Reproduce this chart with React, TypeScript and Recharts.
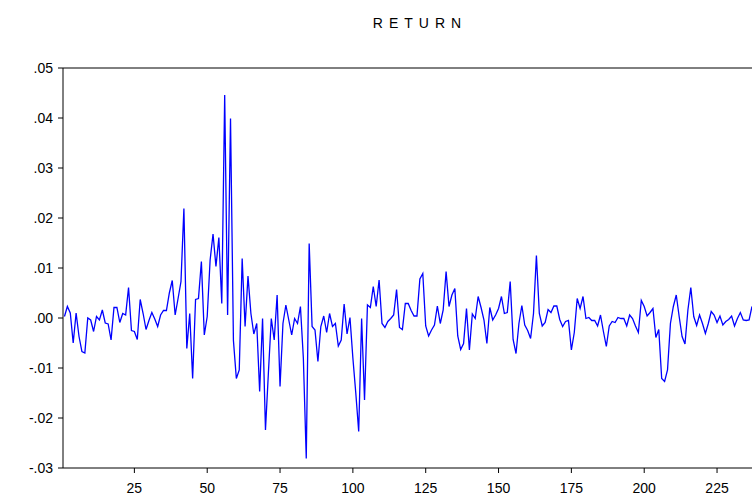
import { LineChart, Line, XAxis, YAxis, ReferenceLine } from 'recharts'

// daily return series
const returns = [
    0.0003, 0.0023, 0.001, -0.005, 0.001, -0.0037, -0.0067, -0.007, 0.0, -0.0004,
    -0.0027, 0.0003, -0.0004, 0.0016, -0.001, -0.0012, -0.0044, 0.0021, 0.0021, -0.0009,
    0.0009, 0.0006, 0.0061, -0.0025, -0.0027, -0.0043, 0.0037, 0.0009, -0.0023, -0.0005,
    0.0011, -0.0002, -0.0017, 0.0006, 0.0015, 0.0015, 0.005, 0.0075, 0.0006, 0.0039,
    0.0073, 0.0219, -0.0061, 0.0009, -0.0121, 0.0037, 0.0039, 0.0113, -0.0034, 0.0003,
    0.0116, 0.0168, 0.0103, 0.0161, 0.0029, 0.0446, 0.0006, 0.0399, -0.0045, -0.0121,
    -0.0104, 0.0119, -0.0017, 0.0084, 0.0009, -0.0032, -0.0011, -0.0147, -0.0001, -0.0224,
    -0.011, -0.0001, -0.0044, 0.0046, -0.0137, -0.0011, 0.0026, -0.0004, -0.0034, -0.0001,
    -0.0011, 0.0023, -0.008, -0.0281, 0.0149, -0.0017, -0.0024, -0.0087, -0.0017, 0.0004,
    -0.0029, 0.0009, -0.0017, -0.0011, -0.0056, -0.0044, 0.0028, -0.0032, 0.0001, -0.008,
    -0.015, -0.0227, -0.0001, -0.0164, 0.0026, 0.0021, 0.0063, 0.0023, 0.0076, -0.0011,
    -0.0019, -0.0007, -0.0001, 0.0006, 0.0057, -0.0019, -0.0023, 0.0029, 0.0029, 0.0015,
    0.0004, 0.0004, 0.0078, 0.0089, -0.0016, -0.0036, -0.0024, -0.0014, 0.0024, -0.0011,
    0.0016, 0.0093, 0.0023, 0.0046, 0.0059, -0.0036, -0.0063, -0.0051, 0.0019, -0.0064,
    0.0008, -0.0001, 0.0043, 0.0021, -0.0004, -0.0051, 0.0021, -0.0004, 0.0006, 0.0019,
    0.0043, 0.0009, 0.0011, 0.0073, -0.0043, -0.0071, -0.0011, 0.0025, -0.0014, -0.0025,
    -0.0041, 0.0009, 0.0125, 0.0009, -0.0016, -0.0009, 0.0017, 0.0011, 0.0024, 0.0024,
    -0.0003, -0.0017, -0.0007, -0.0005, -0.0064, -0.0029, 0.0039, 0.0019, 0.0043, -0.0001,
    0.0001, -0.0005, -0.0005, -0.0016, 0.0006, -0.0027, -0.0057, -0.0016, -0.0007, -0.0009,
    0.0001, -0.0001, -0.0001, -0.0016, 0.0006, -0.0001, -0.0016, -0.0029, 0.0035, 0.0023,
    0.0004, 0.0011, 0.0019, -0.0039, -0.0023, -0.0121, -0.0127, -0.0104, -0.0011, 0.0023,
    0.0046, 0.0003, -0.0037, -0.0052, 0.0016, 0.0061, 0.0003, -0.0015, 0.0006, -0.0011,
    -0.0031, -0.0011, 0.0013, 0.0006, -0.0009, 0.0004, -0.0014, -0.0007, -0.0003, 0.0004,
    -0.0016, -0.0001, 0.0011, -0.0004, -0.0005, -0.0004, 0.0023,
]

const xTicks = [25, 50, 75, 100, 125, 150, 175, 200, 225]
const yTicks = [-0.03, -0.02, -0.01, 0, 0.01, 0.02, 0.03, 0.04, 0.05]

const data = returns.map((r, i) => ({ obs: i + 1, ret: r }))

const font = '"Liberation Sans", Arial, sans-serif'

// eviews style: .05, -.01, .00
const fmtY = (v: number) => {
    const s = Math.abs(v).toFixed(2).replace(/^0/, '')
    return v < -1e-9 ? '-' + s : s
}

export default function App() {
    return (
        <div
            style={{
                position: 'absolute',
                left: 0,
                top: 0,
                width: 752,
                height: 500,
                background: '#fff',
                fontFamily: font,
            }}
        >
            <div
                style={{
                    position: 'absolute',
                    top: 15,
                    left: 70,
                    width: 700,
                    textAlign: 'center',
                    fontSize: 14,
                    letterSpacing: 6,
                    color: '#000',
                }}
            >
                RETURN
            </div>
            <LineChart
                width={752}
                height={500}
                data={data}
                margin={{ top: 68, right: 0, bottom: 0, left: 0 }}
            >
                <XAxis
                    dataKey="obs"
                    type="number"
                    domain={[0.5, 237]}
                    ticks={xTicks}
                    allowDataOverflow
                    height={32}
                    tickSize={5}
                    tickMargin={10}
                    stroke="#000"
                    tick={{ fill: '#000', fontSize: 14, fontFamily: font }}
                />
                <YAxis
                    domain={[-0.03, 0.05]}
                    ticks={yTicks}
                    tickFormatter={fmtY}
                    allowDataOverflow
                    width={63}
                    tickSize={5}
                    tickMargin={5}
                    stroke="#000"
                    tick={{ fill: '#000', fontSize: 14, fontFamily: font }}
                />
                <ReferenceLine y={0.05} stroke="#000" />
                <Line
                    type="linear"
                    dataKey="ret"
                    stroke="#0000ff"
                    strokeWidth={1.3}
                    dot={false}
                    isAnimationActive={false}
                />
            </LineChart>
        </div>
    )
}
